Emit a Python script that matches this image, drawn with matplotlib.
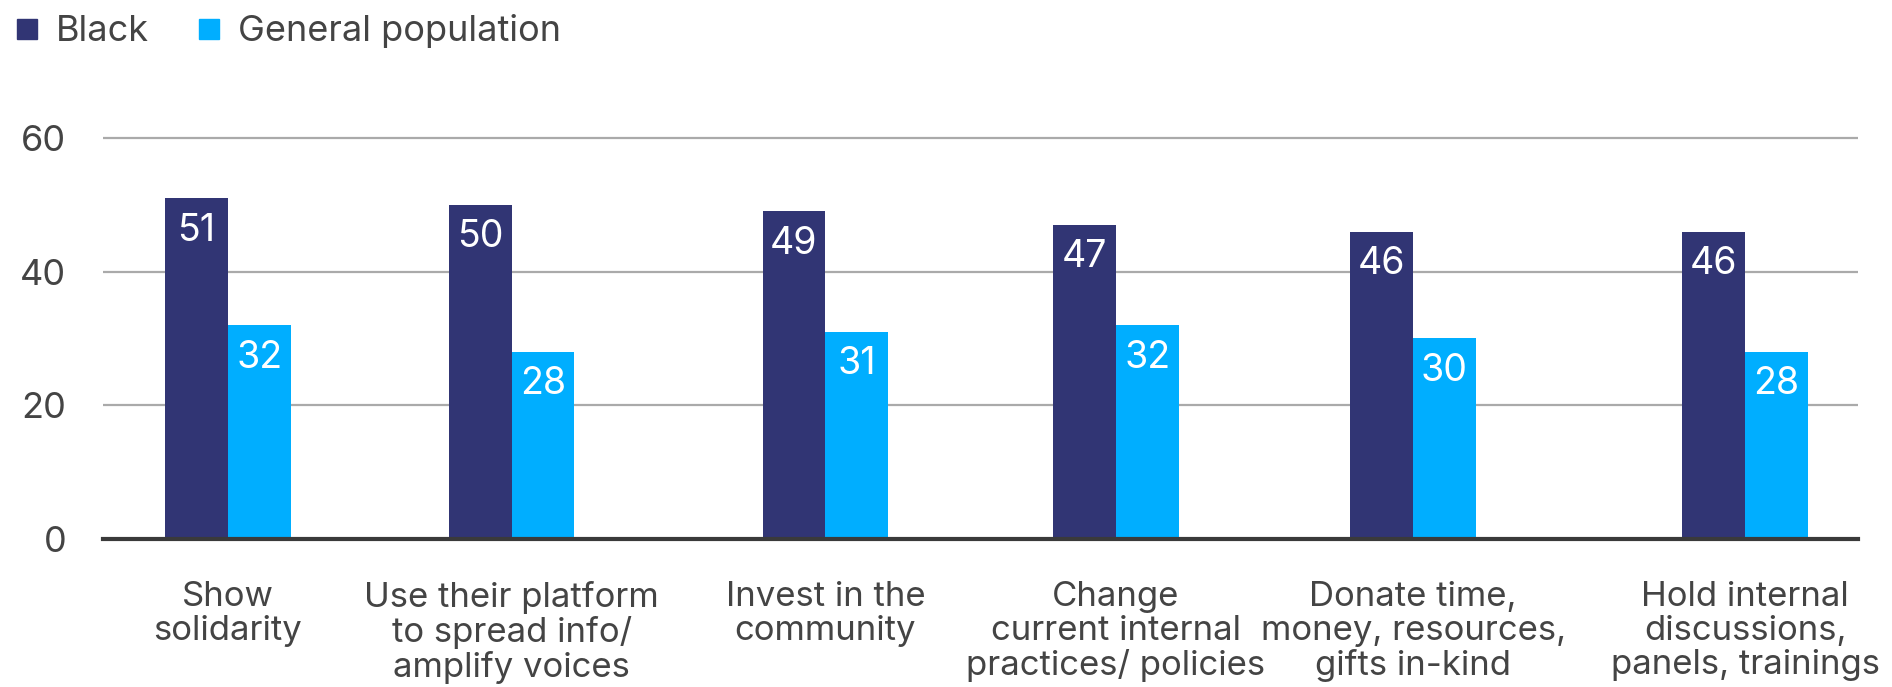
import matplotlib.pyplot as plt
import numpy as np
from matplotlib.lines import Line2D

plt.rcParams['font.family'] = ['Inter', 'DejaVu Sans']

categories = ["Show\nsolidarity",
              "Use their platform\nto spread info/\namplify voices",
              "Invest in the\ncommunity",
              "Change\ncurrent internal\npractices/ policies",
              "Donate time,\nmoney, resources,\ngifts in-kind",
              "Hold internal\ndiscussions,\npanels, trainings"]
black = [51, 50, 49, 47, 46, 46]
general = [32, 28, 31, 32, 30, 28]

navy = '#313574'
sky = '#00AEFF'
txt = '#444444'

fig = plt.figure(figsize=(18.92, 6.87), dpi=100)
ax = fig.add_axes([0.0542, 0.2154, 0.9278, 0.5935])

# group centres are spaced unevenly to leave room for the longer labels
x = np.array([0, 0.935, 1.969, 2.927, 3.906, 5.0])
w = 0.207
b1 = ax.bar(x - w/2, black, width=w, color=navy, zorder=3)
b2 = ax.bar(x + w/2, general, width=w, color=sky, zorder=3)

# value labels inside the top of each bar
for bars, vals in [(b1, black), (b2, general)]:
    for r, v in zip(bars, vals):
        ax.annotate(str(v), (r.get_x() + r.get_width()/2, v),
                    xytext=(0, -10.5), textcoords='offset points',
                    ha='center', va='top', color='white', fontsize=27, zorder=4)

ax.set_xlim(-0.413, 5.372)
ax.set_ylim(0, 61)
ax.set_yticks([0, 20, 40, 60])
ax.yaxis.grid(True, color='#aaaaaa', linewidth=1.6, zorder=0)
ax.set_axisbelow(True)
for s in ['top', 'right', 'left']:
    ax.spines[s].set_visible(False)
ax.spines['bottom'].set_color('#3a3a3a')
ax.spines['bottom'].set_linewidth(3)
ax.spines['bottom'].set_zorder(5)

ax.set_xticks(x)
ax.set_xticklabels(categories, fontsize=25, color=txt, linespacing=1.09)
ax.tick_params(axis='x', length=0, pad=30)
ax.tick_params(axis='y', length=0, pad=26, labelsize=26, labelcolor=txt)

handles = [Line2D([], [], marker='s', ls='', color=navy, markersize=14, label='Black'),
           Line2D([], [], marker='s', ls='', color=sky, markersize=14, label='General population')]
fig.legend(handles=handles, loc='upper left', bbox_to_anchor=(0.0, 1.0), ncol=2,
           frameon=False, fontsize=26, labelcolor=txt, handlelength=0.7,
           handletextpad=0.45, columnspacing=1.3, borderaxespad=0.0)

fig.savefig('out.png', dpi=100)
